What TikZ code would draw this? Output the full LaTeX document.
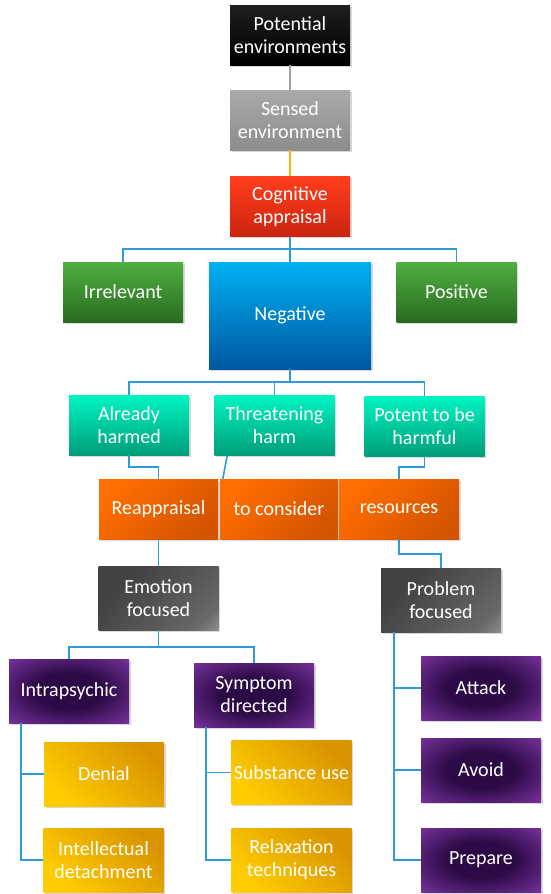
\documentclass[tikz,border=0pt]{standalone}
\usepackage{fontspec}
\setmainfont{Carlito}
\usetikzlibrary{positioning,shadows}
\definecolor{linkblue}{RGB}{45,155,217}
\definecolor{stemgrey}{RGB}{160,160,160}
\definecolor{stemorange}{RGB}{255,178,0}
\definecolor{pdark}{RGB}{44,10,70}
\definecolor{plight}{RGB}{168,76,212}
\definecolor{gdark}{RGB}{66,66,66}
\definecolor{gmid}{RGB}{88,88,88}
\definecolor{glight}{RGB}{200,200,200}
\pgfdeclareradialshading{purpleglow}{\pgfpoint{0bp}{0bp}}{color(0bp)=(pdark); color(14bp)=(pdark); color(50bp)=(plight); color(72bp)=(plight)}
\pgfdeclareverticalshading{greyglint}{100bp}{color(0bp)=(glight); color(24bp)=(gmid!85!glight); color(42bp)=(gmid); color(70bp)=(gdark); color(100bp)=(gdark)}
\tikzset{
  box/.style={minimum width=120pt, minimum height=60pt, inner sep=1pt, align=center, text=white,
    font=\fontsize{20}{23}\selectfont,
    drop shadow={shadow xshift=1.5pt, shadow yshift=-1.5pt, opacity=0.3}},
  blackbox/.style={box, top color=black!88, bottom color=black},
  greybox/.style={box, top color={rgb,255:red,170;green,170;blue,170}, bottom color={rgb,255:red,140;green,140;blue,140}},
  redbox/.style={box, top color={rgb,255:red,255;green,62;blue,28}, bottom color={rgb,255:red,204;green,36;blue,16}},
  greenbox/.style={box, top color={rgb,255:red,78;green,176;blue,62}, bottom color={rgb,255:red,42;green,106;blue,34}},
  bluebox/.style={box, top color={rgb,255:red,0;green,178;blue,242}, bottom color={rgb,255:red,0;green,87;blue,163}},
  tealbox/.style={box, top color={rgb,255:red,0;green,245;blue,195}, bottom color={rgb,255:red,0;green,158;blue,120}},
  orangebox/.style={box, top color={rgb,255:red,255;green,110;blue,0}, bottom color={rgb,255:red,212;green,84;blue,0}, shading angle=45},
  darkbox/.style={box, minimum height=64pt, shading=greyglint, shading angle=45},
  purplebox/.style={box, minimum height=64pt, shading=purpleglow},
  yellowbox/.style={box, minimum height=64pt, top color={rgb,255:red,216;green,148;blue,0}, middle color={rgb,255:red,245;green,176;blue,0}, bottom color={rgb,255:red,255;green,204;blue,0}, shading angle=-45},
  link/.style={draw=linkblue, line width=1.6pt},
}
\begin{document}
\begin{tikzpicture}[x=1pt,y=-1pt]
\useasboundingbox (0,0) rectangle (550,894);
	\node (pot) [blackbox] at (290,35) {Potential\\environments};
	\node (sen) [greybox, below of=pot, node distance=85pt] {Sensed\\environment};
	\node (cog) [redbox, below of=sen, node distance=86.5pt] {Cognitive\\appraisal};
	\node (irr) [greenbox] at (123,292) {Irrelevant};
	\node (neg) [bluebox, minimum width=162pt, minimum height=107pt] at (290,315.5) {Negative};
	\node (pos) [greenbox] at (456.5,292) {Positive};
	\node (ah) [tealbox] at (129,425) {Already\\harmed};
	\node (th) [tealbox] at (274.5,425) {Threatening\\harm};
	\node (pt) [tealbox] at (424.5,426) {Potent to be\\harmful};
	\node (rea) [orangebox, minimum width=119pt] at (158.5,509) {Reappraisal};
	\node (tc) [orangebox, minimum width=118pt] at (279,509) {to consider};
	\node (res) [orangebox] at (399,509) {resources};
	\node (emo) [darkbox] at (158.5,598) {Emotion\\focused};
	\node (prob) [darkbox] at (441,600) {Problem\\focused};
	\node (intra) [purplebox] at (69,691) {Intrapsychic};
	\node (sym) [purplebox] at (254,695) {Symptom\\directed};
	\node (den) [yellowbox] at (104,774) {Denial};
	\node (int) [yellowbox] at (103.5,860) {Intellectual\\detachment};
	\node (sub) [yellowbox] at (291.5,772.5) {Substance use};
	\node (rel) [yellowbox] at (291.5,860) {Relaxation\\techniques};
	\node (att) [purplebox] at (481,688) {Attack};
	\node (avo) [purplebox] at (481,770) {Avoid};
	\node (pre) [purplebox] at (481,860) {Prepare};
	\draw [link, draw=stemgrey] (pot) -- (sen);
	\draw [link, draw=stemorange] (sen) -- (cog);
	\draw [link] (cog.south) -- ++(0,12) -| (irr);
	\draw [link] (cog.south) -- ++(0,12) -| (pos);
	\draw [link] (cog) -- (neg);
	\draw [link] (neg.south) -- ++(0,13) -| (ah);
	\draw [link] (neg.south) -- ++(0,13) -| (th);
	\draw [link] (neg.south) -- ++(0,13) -| (pt);
	\draw [link] (ah.south) -- ++(0,12) -| (rea);
	\draw [link] ([xshift=13pt]th.south west) -- ([xshift=3pt]tc.north west);
	\draw [link] (pt.south) -- ++(0,11) -| (res);
	\draw [link] (rea) -- (emo);
	\draw [link] (res.south) -- ++(0,15) -| (prob);
	\draw [link] (emo.south) -- ++(0,17) -| (intra);
	\draw [link] (emo.south) -- ++(0,17) -| (sym);
	\draw [link] ([xshift=12pt]intra.south west) |- (den);
	\draw [link] ([xshift=12pt]intra.south west) |- (int);
	\draw [link] ([xshift=12pt]sym.south west) |- (sub);
	\draw [link] ([xshift=12pt]sym.south west) |- (rel);
	\draw [link] ([xshift=13pt]prob.south west) |- (att);
	\draw [link] ([xshift=13pt]prob.south west) |- (avo);
	\draw [link] ([xshift=13pt]prob.south west) |- (pre);
\end{tikzpicture}
\end{document}
